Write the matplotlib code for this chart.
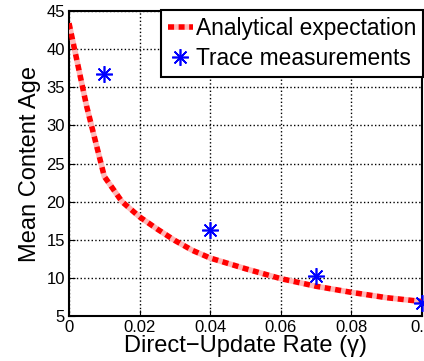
import matplotlib.pyplot as plt

# analytical curve
rate = [0, 0.005, 0.01, 0.015, 0.02, 0.025, 0.03, 0.035, 0.04, 0.05, 0.06, 0.07, 0.08, 0.09, 0.1]
expected_age = [43.4, 32.5, 23.3, 20.0, 18.0, 16.4, 14.9, 13.6, 12.6, 11.2, 9.9, 8.9, 8.1, 7.4, 6.9]

# trace measurements
trace_rate = [0.01, 0.04, 0.07, 0.1]
trace_age = [36.7, 16.3, 10.3, 6.7]

plt.rcParams['font.family'] = ['Liberation Sans', 'DejaVu Sans']

fig = plt.figure(figsize=(4.24, 3.61), dpi=100)
ax = fig.add_axes([69 / 424, 45 / 361, 353 / 424, 305 / 361])

ax.plot(rate, expected_age, color='red', lw=4, dashes=(1.1, 0.8), gapcolor='#ffb8b8',
        dash_capstyle='butt', label='Analytical expectation', zorder=3)
ax.plot(trace_rate, trace_age, linestyle='none', marker=(8, 2, 0), markersize=12,
        markeredgewidth=1.2, color='blue', label='Trace measurements', zorder=4, clip_on=False)

ax.set_xlim(0, 0.1)
ax.set_ylim(5, 45)
ax.set_xticks([0, 0.02, 0.04, 0.06, 0.08, 0.1])
ax.set_xticklabels(['0', '0.02', '0.04', '0.06', '0.08', '0.1'])
ax.set_yticks(range(5, 46, 5))
ax.tick_params(direction='in', labelsize=12, pad=3, length=4)
ax.grid(True, color='black', linestyle=':', linewidth=1)
for s in ax.spines.values():
    s.set_linewidth(1.5)

ax.set_xlabel('Direct\u2212Update Rate (\u03b3)', fontsize=17, labelpad=0)
ax.set_ylabel('Mean Content Age', fontsize=17, labelpad=4)

leg = ax.legend(loc='upper right', bbox_to_anchor=(1.004, 1.003), borderaxespad=0, fontsize=16.4,
                fancybox=False, framealpha=1, edgecolor='black', handlelength=1.1,
                handletextpad=0.15, labelspacing=0.3, borderpad=0.3)
leg.get_frame().set_linewidth(1.5)

plt.savefig('out.png', dpi=100)
